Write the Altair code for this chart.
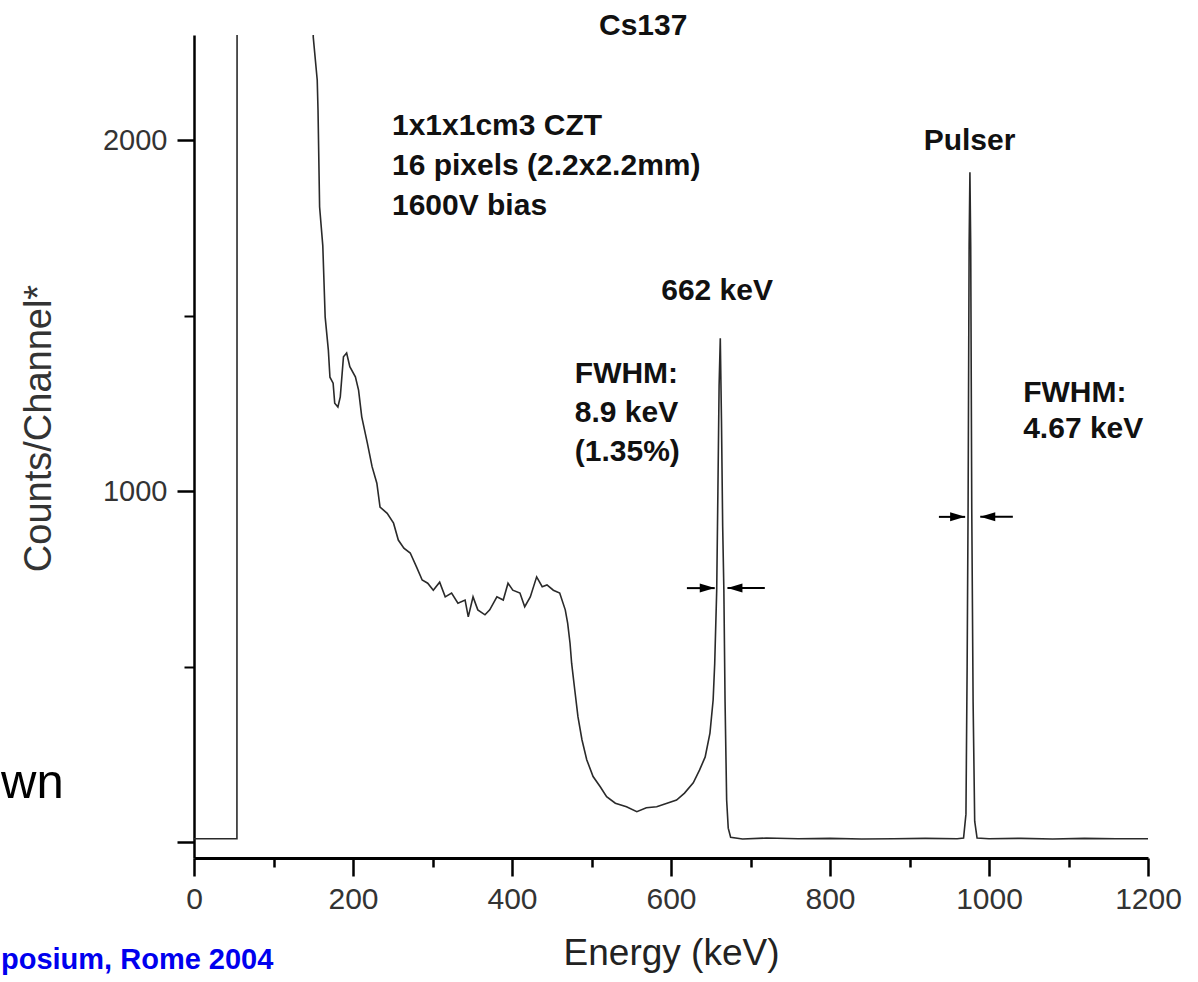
import altair as alt
import pandas as pd

# Cs-137 spectrum measured with a pixelated CZT detector, plus a test-pulser line
energy_kev = [
    0, 54, 54.3, 148, 150, 155, 156, 158, 162, 165, 169, 171, 175, 177, 181, 184,
    188, 192, 196, 203, 207, 211, 218, 224, 230, 234, 243, 251, 257, 264, 272, 280,
    287, 294, 301, 309, 316, 324, 332, 341, 345, 351, 357, 366, 372, 381, 389, 395,
    401, 410, 416, 423, 431, 438, 444, 452, 460, 467, 470, 473, 475, 479, 483, 488,
    494, 502, 511, 519, 530, 544, 557, 569, 582, 595, 607, 617, 628, 636, 643, 649,
    653, 655, 657.5, 659, 660.5, 662, 663.5, 665, 666.5, 668, 670, 672, 675, 690,
    720, 760, 800, 840, 880, 920, 960, 968, 971, 972.5, 973.7, 975, 976, 977, 978.3,
    980, 982, 985, 1000, 1040, 1080, 1120, 1160, 1200,
]
counts = [
    10, 10, 4000, 4000, 2294, 2172, 2086, 1810, 1700, 1496, 1402, 1325, 1308, 1251, 1240, 1269,
    1383, 1394, 1355, 1326, 1288, 1212, 1138, 1070, 1023, 955, 937, 909, 861, 838, 824, 784,
    747, 738, 718, 741, 699, 710, 681, 690, 642, 699, 662, 648, 662, 699, 690, 738,
    718, 710, 671, 699, 756, 728, 733, 718, 710, 662, 624, 567, 510, 433, 357, 292,
    235, 187, 158, 130, 111, 101, 87, 98, 101, 111, 120, 140, 169, 206, 243, 311,
    405, 510, 718, 1000, 1300, 1436, 1200, 900, 718, 400, 120, 40, 14, 9,
    12, 10, 11, 9, 10, 11, 10, 12, 80, 500, 955, 1700, 1909, 1700, 955,
    400, 60, 12, 10, 11, 9, 11, 10, 10,
]

# FWHM arrows: shaft start, arrow tip, height (counts), pointing direction
arrow_start = [620, 718, 937, 1030]
arrow_tip = [655, 671, 970, 989]
arrow_level = [724, 724, 927, 927]
arrow_dir = ["right", "left", "right", "left"]

# bold annotations
left_texts = ["1x1x1cm3 CZT", "16 pixels (2.2x2.2mm)", "1600V bias",
              "FWHM:", "8.9 keV", "(1.35%)", "FWHM:", "4.67 keV"]
left_text_e = [249, 249, 249, 479, 479, 479, 1043, 1043]
left_text_c = [2015, 1901, 1787, 1308, 1197, 1086, 1254, 1152]
center_texts = ["Cs137", "662 keV", "Pulser"]
center_text_e = [565, 658, 975.5]
center_text_c = [2300, 1545, 1972]

FONT = "Liberation Sans, Arial, Helvetica, sans-serif"

spectrum = pd.DataFrame({"energy": energy_kev, "counts": counts})
arrows = pd.DataFrame({"start": arrow_start, "tip": arrow_tip,
                       "level": arrow_level, "dir": arrow_dir})
left_df = pd.DataFrame({"text": left_texts, "energy": left_text_e, "counts": left_text_c})
center_df = pd.DataFrame({"text": center_texts, "energy": center_text_e, "counts": center_text_c})
one_row = pd.DataFrame({"k": [0]})

xs = alt.Scale(domain=[0, 1200], nice=False, zero=False)
ys = alt.Scale(domain=[-45, 2300], nice=False, zero=False)

x_major = alt.Axis(
    orient="bottom", values=list(range(0, 1201, 200)), format="d", grid=False,
    tickSize=18, tickWidth=2.5, tickColor="black",
    domainColor="black", domainWidth=3,
    labelFont=FONT, labelFontSize=30, labelColor="#333", labelPadding=8,
    labelFlush=False, labelOverlap=False,
    title="Energy (keV)", titleFont=FONT, titleFontSize=37, titleFontWeight="normal",
    titleColor="#222", titlePadding=21,
)
x_minor = alt.Axis(
    orient="bottom", values=list(range(100, 1200, 200)), grid=False,
    tickSize=9, tickWidth=2.5, tickColor="black", domain=False, labels=False, title=None,
)
y_major = alt.Axis(
    orient="left", values=[0, 1000, 2000], format="d", grid=False,
    tickSize=17, tickWidth=2.5, tickColor="black",
    domainColor="black", domainWidth=2.5,
    labelFont=FONT, labelFontSize=29, labelColor="#333", labelPadding=10,
    labelExpr="datum.value == 0 ? '' : datum.label", labelOverlap=False,
    title="Counts/Channel*", titleFont=FONT, titleFontSize=38, titleFontWeight="normal",
    titleColor="#333", titlePadding=44, titleY=393,
)
y_minor = alt.Axis(
    orient="left", values=[500, 1500], grid=False,
    tickSize=10, tickWidth=2, tickColor="black", domain=False, labels=False, title=None,
)

minor_ticks = alt.Chart(spectrum).mark_line(opacity=0).encode(
    x=alt.X("energy:Q", scale=xs, axis=x_minor),
    y=alt.Y("counts:Q", scale=ys, axis=y_minor),
)

line = alt.Chart(spectrum).mark_line(color="#2a2a2a", strokeWidth=1.6, clip=True).encode(
    x=alt.X("energy:Q", scale=xs, axis=x_major),
    y=alt.Y("counts:Q", scale=ys, axis=y_major),
)

shafts = alt.Chart(arrows).mark_rule(color="black", strokeWidth=2).encode(
    x=alt.X("start:Q", axis=None),
    x2="tip:Q",
    y=alt.Y("level:Q", axis=None),
)
head_right = alt.Chart(arrows).transform_filter(alt.datum.dir == "right").mark_point(
    shape="M-1,-0.6L1,0L-1,0.6Z", size=225, filled=True, color="black",
    opacity=1, strokeWidth=0, xOffset=-7.5,
).encode(x=alt.X("tip:Q", axis=None), y=alt.Y("level:Q", axis=None))
head_left = alt.Chart(arrows).transform_filter(alt.datum.dir == "left").mark_point(
    shape="M1,-0.6L-1,0L1,0.6Z", size=225, filled=True, color="black",
    opacity=1, strokeWidth=0, xOffset=7.5,
).encode(x=alt.X("tip:Q", axis=None), y=alt.Y("level:Q", axis=None))

left_labels = alt.Chart(left_df).mark_text(
    align="left", baseline="alphabetic", font=FONT, fontSize=30, fontWeight="bold", color="#111",
).encode(x=alt.X("energy:Q", axis=None), y=alt.Y("counts:Q", axis=None), text="text:N")

center_labels = alt.Chart(center_df).mark_text(
    align="center", baseline="alphabetic", font=FONT, fontSize=30, fontWeight="bold", color="#111",
).encode(x=alt.X("energy:Q", axis=None), y=alt.Y("counts:Q", axis=None), text="text:N")

slide_word = alt.Chart(one_row).mark_text(
    text="wn", align="left", baseline="alphabetic", font=FONT, fontSize=49, color="black",
).encode(x=alt.value(-193), y=alt.value(763))

slide_credit = alt.Chart(one_row).mark_text(
    text="posium, Rome 2004", align="left", baseline="alphabetic", font=FONT,
    fontSize=29, fontWeight="bold", color="#0000EE",
).encode(x=alt.value(-193), y=alt.value(934))

chart = alt.layer(
    minor_ticks, line, shafts, head_right, head_left,
    left_labels, center_labels, slide_word, slide_credit,
).resolve_axis(x="independent", y="independent").properties(
    width=954, height=823,
    autosize=alt.AutoSizeParams(type="none"),
    padding={"left": 194, "top": 35, "right": 50, "bottom": 124},
    background="white",
).configure_view(stroke=None)

chart.save("out.html", embed_options={"renderer": "svg", "actions": False})
